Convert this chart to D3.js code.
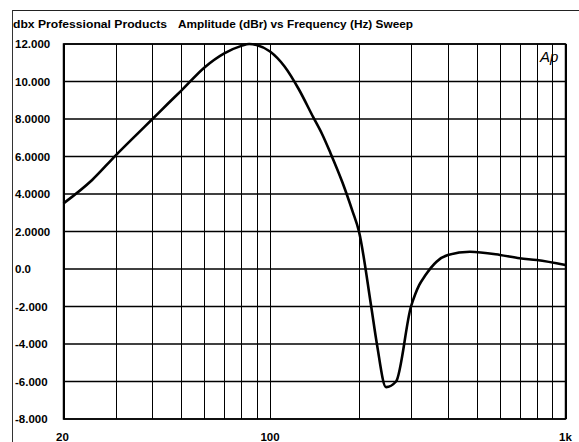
<!DOCTYPE html>
<html><head><meta charset="utf-8">
<script src="https://cdn.jsdelivr.net/npm/d3@7"></script>
<style>body{margin:0;background:#fff}svg{display:block}</style>
</head><body>
<script>
const titleLeft = "dbx Professional Products";
const titleRight = "Amplitude (dBr) vs Frequency (Hz) Sweep";
const freqs = [20,25,30,35,40,45,50,60,70,80,85,90,100,112,125,140,150,160,176,190,200,220,230,247,267,300,310,320,335,366,400,475,600,700,800,1000];
const amps  = [3.5,4.75,6.05,7.1,8.0,8.8,9.5,10.75,11.5,11.9,12.0,11.95,11.6,10.8,9.6,8.1,7.2,6.2,4.6,3.1,2.0,-2.0,-4.0,-6.3,-6.0,-2.0,-1.35,-0.85,-0.35,0.39,0.75,0.92,0.75,0.57,0.48,0.21];
const yTicks = [12,10,8,6,4,2,0,-2,-4,-6,-8];
const yTickLabels = ["12.000","10.000","8.0000","6.0000","4.0000","2.0000","0.0","-2.000","-4.000","-6.000","-8.000"];
const xGrid = [20,30,40,50,60,70,80,90,100,200,300,400,500,600,700,800,900,1000];
const xLabelVals = [20,100,1000];
const xLabels = ["20","100","1k"];

const W=579,H=442;
const svg=d3.select("body").append("svg").attr("width",W).attr("height",H);
const L=63.5,R=565.5,T=44,B=419;
const x=d3.scaleLog().domain([20,1000]).range([L,R]);
const y=d3.scaleLinear().domain([-8,12]).range([B,T]);
const font="'Liberation Sans', Arial, Helvetica, sans-serif";

// outer frame
svg.append("line").attr("x1",12).attr("x2",W).attr("y1",10.5).attr("y2",10.5).attr("stroke","#222").attr("stroke-width",1.2);
svg.append("line").attr("x1",12.5).attr("x2",12.5).attr("y1",10).attr("y2",H).attr("stroke","#333").attr("stroke-width",1);

svg.append("text").attr("x",13).attr("y",28).attr("font-family",font).attr("font-weight","bold")
  .attr("font-size",11.5).attr("textLength",154).attr("lengthAdjust","spacingAndGlyphs").text(titleLeft);
svg.append("text").attr("x",178).attr("y",28).attr("font-family",font).attr("font-weight","bold")
  .attr("font-size",11.5).attr("textLength",235).attr("lengthAdjust","spacingAndGlyphs").text(titleRight);

// grid
svg.append("g").selectAll("line").data(xGrid).join("line")
  .attr("x1",d=>Math.round(x(d))+0.5).attr("x2",d=>Math.round(x(d))+0.5).attr("y1",T).attr("y2",B)
  .attr("stroke","#000").attr("stroke-width",1);
svg.append("g").selectAll("line").data(yTicks).join("line")
  .attr("x1",L).attr("x2",R).attr("y1",d=>y(d)).attr("y2",d=>y(d))
  .attr("stroke","#000").attr("stroke-width",1.6);
svg.append("rect").attr("x",L).attr("y",T).attr("width",R-L).attr("height",B-T)
  .attr("fill","none").attr("stroke","#000").attr("stroke-width",1.5);

// y labels
svg.append("g").selectAll("text").data(yTicks).join("text")
  .attr("x",15).attr("y",d=>y(d)).attr("dy","0.36em").attr("font-family",font).attr("font-weight","bold")
  .attr("font-size",11.5).text((d,i)=>yTickLabels[i]);
// x labels
svg.append("g").selectAll("text").data(xLabelVals).join("text")
  .attr("x",(d,i)=>x(d)-(i==0?1:0)).attr("y",441).attr("text-anchor","middle").attr("font-family",font).attr("font-weight","bold")
  .attr("font-size",11.5).text((d,i)=>xLabels[i]);

// Ap logo
svg.append("text").attr("x",540).attr("y",62).attr("font-family",font).attr("font-style","italic")
  .attr("font-size",15).text("Ap");

// curve
const data=freqs.map((f,i)=>[f,amps[i]]);
svg.append("path").datum(data).attr("fill","none").attr("stroke","#000").attr("stroke-width",2.6)
  .attr("stroke-linejoin","round")
  .attr("d",d3.line().x(d=>x(d[0])).y(d=>y(d[1])).curve(d3.curveMonotoneX));
</script>
</body></html>
